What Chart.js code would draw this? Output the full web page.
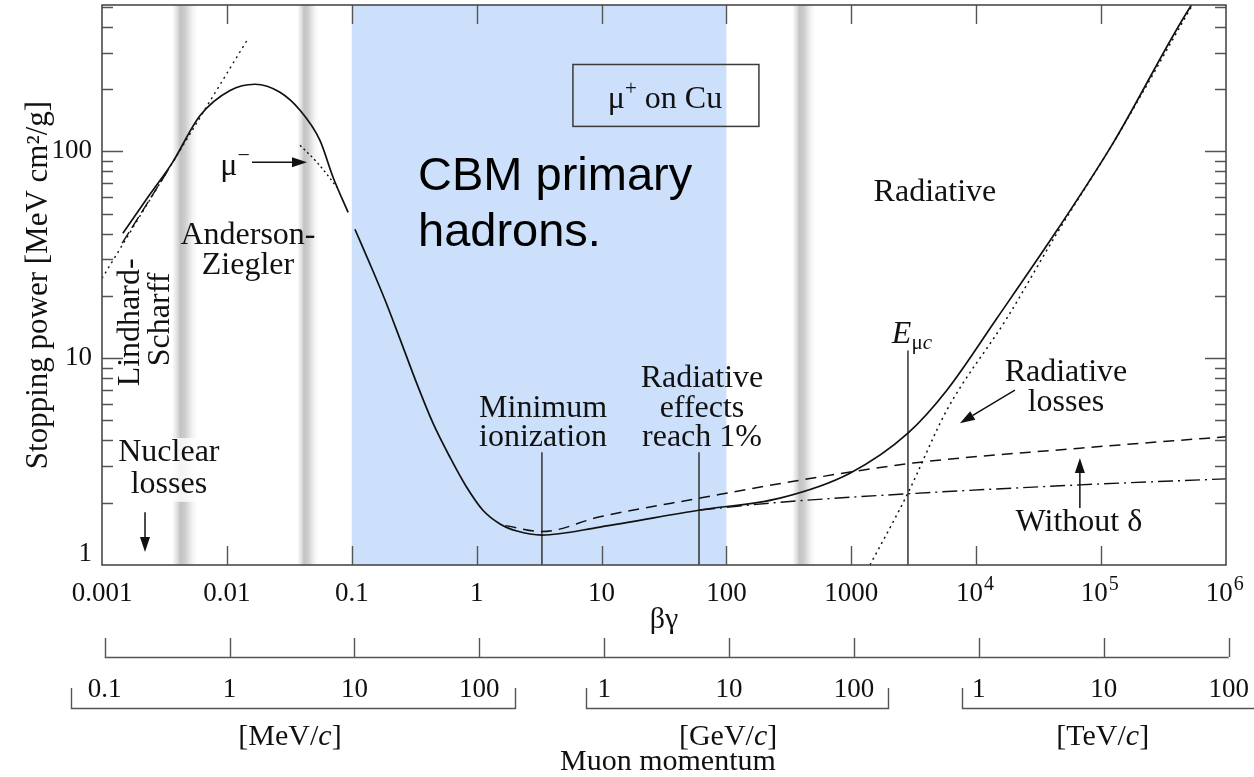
<!DOCTYPE html>
<html>
<head>
<meta charset="utf-8">
<script src="https://cdn.jsdelivr.net/npm/chart.js@4.4.0/dist/chart.umd.min.js"></script>
<style>
  html, body { margin: 0; padding: 0; background: #fff; }
</style>
</head>
<body>
<canvas id="myChart" width="1254" height="777"></canvas>
<script>
// axis ticks
var xTicks = [0.001, 0.01, 0.1, 1, 10, 100, 1000, 1e4, 1e5, 1e6];
var xTickLabels = ['0.001', '0.01', '0.1', '1', '10', '100', '1000', '10\u2002', '10\u2002', '10\u2002'];
var xTickExp = ['', '', '', '', '', '', '', '4', '5', '6'];
var yTicks = [1, 10, 100];
var yTickLabels = ['1', '10', '100'];

// Anderson-Ziegler region (solid)
var azX = [0.00147, 0.00242, 0.00363, 0.0061, 0.0106, 0.0168, 0.0266, 0.0385, 0.0556, 0.0708, 0.0934];
var azY = [40.2, 62, 87.5, 149, 197, 211, 193, 158, 113, 75, 50.7];
// Lindhard-Scharff (dashed)
var lsX = [0.00145, 0.00225, 0.0035];
var lsY = [36, 54.8, 83.7];
// low energy dotted line
var lowDotX = [0.001, 0.01449];
var lowDotY = [24.3, 344];
// mu- (dotted)
var muMinusX = [0.0385, 0.0536, 0.0761];
var muMinusY = [107, 87.5, 67];
// Bethe + radiative total (solid)
var betheX = [0.106, 0.140, 0.1846, 0.243, 0.333, 0.447, 0.611, 0.820, 1.122, 1.538, 2.10, 3.33, 9.7,
  61.4, 268, 975, 2840, 5820, 14650, 44300, 124000, 514000, 564000];
var betheY = [42, 28.5, 19.1, 12.4, 7.49, 4.85, 3.32, 2.41, 1.84, 1.58, 1.46, 1.396, 1.526,
  1.844, 2.107, 2.78, 4.34, 7.0, 15.6, 41.5, 109, 496, 536];
// ionization only (dashed)
var ionX = [1.7, 3.33, 9.7, 61.4, 388, 3110, 67600, 1e6];
var ionY = [1.55, 1.45, 1.71, 2.107, 2.57, 3.11, 3.67, 4.17];
// without delta (dash-dot)
var noDeltaX = [61.4, 268, 2840, 67600, 1e6];
var noDeltaY = [1.844, 2.01, 2.21, 2.44, 2.61];
// radiative losses (dotted)
var radX = [1410, 2790, 5820, 17600, 44300, 124000, 564000];
var radY = [1.0, 2.18, 5.61, 15.6, 40.2, 109, 536];

// vertical markers: minimum ionization, radiative 1%, E_muc
var markX = [3.33, 60.3, 2840];
var markTop = [3.51, 3.51, 10.9];

// grey boundary bands and CBM region
var bandLo = [0.0037, 0.0371, 341];
var bandHi = [0.00577, 0.0536, 511];
var bandGapLo = [2.02, 0, 0];
var bandGapHi = [4.11, 0, 0];
var cbmRange = [0.1, 100];

// muon momentum ruler (beta*gamma of each momentum decade)
var rulerTicks = [0.00105, 0.0105, 0.105, 1.05, 10.5, 105, 1050, 10500, 105000, 1050000];
var groupUnits = ['[MeV/c]', '[GeV/c]', '[TeV/c]'];
var groupLabels = [['0.1', '1', '10', '100'], ['1', '10', '100'], ['1', '10', '100']];
var groupFirst = [0, 4, 7];
var groupFrom = [0.000565, 7.5, 7690];
var groupTo = [2.03, 1963, 1.9e6];
var groupUnitX = [0.032, 103, 103000];

var serif = '"Liberation Serif", "Times New Roman", serif';
var ink = '#111';
var textSize = 32;

function makeSet(xs, ys, dash, width) {
  var pts = [];
  for (var i = 0; i < xs.length; i++) {
    pts.push({x: xs[i], y: ys[i]});
  }
  return {
    data: pts,
    showLine: true,
    borderColor: ink,
    borderWidth: width,
    borderDash: dash,
    pointRadius: 0,
    fill: false,
    cubicInterpolationMode: 'monotone'
  };
}

var datasets = [
  makeSet(azX, azY, [], 1.7),
  makeSet(lsX, lsY, [13, 5], 1.4),
  makeSet(lowDotX, lowDotY, [2, 4], 1.4),
  makeSet(muMinusX, muMinusY, [2, 3], 1.4),
  makeSet(betheX, betheY, [], 1.7),
  makeSet(ionX, ionY, [11, 7], 1.5),
  makeSet(noDeltaX, noDeltaY, [15, 5, 2, 5], 1.4),
  makeSet(radX, radY, [2, 4], 1.5)
];
for (var m = 0; m < markX.length; m++) {
  var s = makeSet([markX[m], markX[m]], [1, markTop[m]], [], 1.5);
  s.borderColor = '#333';
  s.cubicInterpolationMode = 'default';
  datasets.push(s);
}

// text labels in data coordinates
var labelText = ['Nuclear', 'losses', 'Anderson-', 'Ziegler', 'Minimum', 'ionization',
  'Radiative', 'effects', 'reach 1%', 'Radiative', 'losses', 'Without δ', 'Radiative'];
var labelX = [0.00343, 0.00343, 0.01475, 0.01475, 3.40, 3.40, 63.7, 63.7, 63.7, 52300, 52300, 66400, 4670];
var labelY = [3.48, 2.44, 39.3, 28.1, 5.73, 4.15, 8.0, 5.73, 4.15, 8.56, 6.13, 1.61, 63.4];

// arrows [x0, y0, x1, y1]
var arrows = [
  [0.0159, 88.5, 0.0438, 88.5],
  [0.00221, 1.80, 0.00221, 1.155],
  [20400, 7.0, 7400, 4.85],
  [67600, 1.885, 67600, 3.29]
];

function font(size, italic) {
  return (italic ? 'italic ' : '') + size + 'px ' + serif;
}

function drawParts(ctx, parts, cx, baseline) {
  var total = 0, widths = [];
  for (var i = 0; i < parts.length; i++) {
    ctx.font = font(parts[i][1], parts[i][2]);
    var w = ctx.measureText(parts[i][0]).width;
    widths.push(w);
    total += w;
  }
  var x = cx - total / 2;
  ctx.textAlign = 'left';
  ctx.textBaseline = 'alphabetic';
  for (var j = 0; j < parts.length; j++) {
    ctx.font = font(parts[j][1], parts[j][2]);
    ctx.fillText(parts[j][0], x, baseline + parts[j][3]);
    x += widths[j];
  }
}

function drawArrow(ctx, x0, y0, x1, y1) {
  var ang = Math.atan2(y1 - y0, x1 - x0);
  var len = 15, hw = 5;
  var bx = x1 - len * Math.cos(ang), by = y1 - len * Math.sin(ang);
  ctx.beginPath();
  ctx.moveTo(x0, y0);
  ctx.lineTo(bx, by);
  ctx.stroke();
  ctx.beginPath();
  ctx.moveTo(x1, y1);
  ctx.lineTo(bx + hw * Math.sin(ang), by - hw * Math.cos(ang));
  ctx.lineTo(bx - hw * Math.sin(ang), by + hw * Math.cos(ang));
  ctx.closePath();
  ctx.fill();
}

var decor = {
  id: 'decor',
  beforeDatasetsDraw: function(chart) {
    var ctx = chart.ctx, xs = chart.scales.x, ys = chart.scales.y, a = chart.chartArea;
    ctx.save();
    for (var i = 0; i < bandLo.length; i++) {
      var x0 = xs.getPixelForValue(bandLo[i]), x1 = xs.getPixelForValue(bandHi[i]);
      var g = ctx.createLinearGradient(x0, 0, x1, 0);
      g.addColorStop(0, 'rgba(235,235,235,0.4)');
      g.addColorStop(0.3, '#c3c3c3');
      g.addColorStop(0.5, '#cdcdcd');
      g.addColorStop(0.75, '#ececec');
      g.addColorStop(1, 'rgba(250,250,250,0.4)');
      ctx.fillStyle = g;
      ctx.fillRect(x0, a.top, x1 - x0, a.bottom - a.top);
      if (bandGapHi[i]) {
        var gy0 = ys.getPixelForValue(bandGapHi[i]), gy1 = ys.getPixelForValue(bandGapLo[i]);
        ctx.fillStyle = 'rgba(255,255,255,0.8)';
        ctx.fillRect(x0, gy0, x1 - x0, gy1 - gy0);
      }
    }
    var c0 = xs.getPixelForValue(cbmRange[0]), c1 = xs.getPixelForValue(cbmRange[1]);
    ctx.fillStyle = '#cce0fb';
    ctx.fillRect(c0, a.top, c1 - c0, a.bottom - a.top);
    ctx.restore();
  },
  afterDatasetsDraw: function(chart) {
    var ctx = chart.ctx, xs = chart.scales.x, ys = chart.scales.y, a = chart.chartArea;
    var i, px, py;
    ctx.save();
    ctx.strokeStyle = '#555';
    ctx.lineWidth = 1.4;
    ctx.setLineDash([]);
    // inward ticks
    ctx.beginPath();
    for (i = 1; i < xTicks.length - 1; i++) {
      px = Math.round(xs.getPixelForValue(xTicks[i])) + 0.5;
      ctx.moveTo(px, a.bottom); ctx.lineTo(px, a.bottom - 19);
      ctx.moveTo(px, a.top); ctx.lineTo(px, a.top + 19);
    }
    for (var d = 0; d < yTicks.length; d++) {
      for (var k = 1; k <= 9; k++) {
        var v = yTicks[d] * k;
        if (v <= 1 || v > ys.max) continue;
        var len = k === 1 ? 21 : 11;
        py = Math.round(ys.getPixelForValue(v)) + 0.5;
        ctx.moveTo(a.left, py); ctx.lineTo(a.left + len, py);
        ctx.moveTo(a.right, py); ctx.lineTo(a.right - len, py);
      }
    }
    ctx.stroke();
    // frame
    ctx.strokeStyle = '#4a4a4a';
    ctx.lineWidth = 1.6;
    ctx.strokeRect(a.left, a.top, a.right - a.left, a.bottom - a.top);

    // exponents of the x tick labels
    ctx.fillStyle = ink;
    ctx.textAlign = 'left';
    ctx.textBaseline = 'middle';
    for (i = 0; i < xTicks.length; i++) {
      if (!xTickExp[i]) continue;
      px = xs.getPixelForValue(xTicks[i]);
      ctx.font = font(27);
      var w10 = ctx.measureText('10').width, wsp = ctx.measureText('\u2002').width;
      ctx.font = font(20);
      ctx.fillText(xTickExp[i], px - (w10 + wsp) / 2 + w10 + 1, a.bottom + 20);
    }

    // labels
    ctx.textAlign = 'center';
    ctx.textBaseline = 'middle';
    ctx.font = font(textSize);
    for (i = 0; i < labelText.length; i++) {
      ctx.fillText(labelText[i], xs.getPixelForValue(labelX[i]), ys.getPixelForValue(labelY[i]));
    }
    // rotated Lindhard-Scharff
    var rot = [['Lindhard-', 0.00168, 14.9], ['Scharff', 0.00297, 15.4]];
    for (i = 0; i < rot.length; i++) {
      ctx.save();
      ctx.translate(xs.getPixelForValue(rot[i][1]), ys.getPixelForValue(rot[i][2]));
      ctx.rotate(-Math.PI / 2);
      ctx.fillText(rot[i][0], 0, 0);
      ctx.restore();
    }
    // mu- label
    px = xs.getPixelForValue(0.01162); py = ys.getPixelForValue(85.6);
    drawParts(ctx, [['μ', textSize, false, 0], ['−', 22, false, -13]], px, py + 10);
    // E_muc
    px = xs.getPixelForValue(3055); py = ys.getPixelForValue(13.2);
    drawParts(ctx, [['E', textSize, true, 0], ['μ', 21, false, 6], ['c', 21, true, 6]], px, py + 10);
    // mu+ on Cu box
    var bx0 = xs.getPixelForValue(5.90), bx1 = xs.getPixelForValue(182);
    var by0 = ys.getPixelForValue(263), by1 = ys.getPixelForValue(132);
    ctx.strokeStyle = '#3a3a3a';
    ctx.lineWidth = 1.5;
    ctx.strokeRect(bx0, by0, bx1 - bx0, by1 - by0);
    px = xs.getPixelForValue(32.2); py = ys.getPixelForValue(182);
    drawParts(ctx, [['μ', textSize, false, 0], ['+', 21, false, -13], [' on Cu', textSize, false, 0]], px, py + 10);
    // CBM text
    ctx.fillStyle = '#000';
    ctx.textAlign = 'left';
    ctx.textBaseline = 'middle';
    ctx.font = '47px "Liberation Sans", Arial, sans-serif';
    px = xs.getPixelForValue(0.339);
    ctx.fillText('CBM primary', px, ys.getPixelForValue(74.9));
    ctx.fillText('hadrons.', px, ys.getPixelForValue(40.2));

    // arrows
    ctx.fillStyle = ink;
    ctx.strokeStyle = ink;
    ctx.lineWidth = 1.5;
    for (i = 0; i < arrows.length; i++) {
      var r = arrows[i];
      drawArrow(ctx, xs.getPixelForValue(r[0]), ys.getPixelForValue(r[1]),
        xs.getPixelForValue(r[2]), ys.getPixelForValue(r[3]));
    }

    // muon momentum ruler
    var ry = a.bottom + 92;
    ctx.strokeStyle = '#555';
    ctx.lineWidth = 1.4;
    ctx.beginPath();
    ctx.moveTo(xs.getPixelForValue(rulerTicks[0]), ry + 0.5);
    ctx.lineTo(xs.getPixelForValue(rulerTicks[rulerTicks.length - 1]), ry + 0.5);
    for (i = 0; i < rulerTicks.length; i++) {
      px = Math.round(xs.getPixelForValue(rulerTicks[i])) + 0.5;
      ctx.moveTo(px, ry); ctx.lineTo(px, ry - 19);
    }
    // brackets
    var bb = a.bottom + 143, bt = a.bottom + 123;
    for (var gI = 0; gI < groupUnits.length; gI++) {
      var g0 = Math.round(xs.getPixelForValue(groupFrom[gI])) + 0.5;
      var g1 = Math.round(xs.getPixelForValue(groupTo[gI])) + 0.5;
      ctx.moveTo(g0, bt); ctx.lineTo(g0, bb + 0.5); ctx.lineTo(g1, bb + 0.5); ctx.lineTo(g1, bt);
    }
    ctx.stroke();
    ctx.fillStyle = ink;
    for (gI = 0; gI < groupUnits.length; gI++) {
      for (var L = 0; L < groupLabels[gI].length; L++) {
        ctx.textAlign = 'center';
        ctx.textBaseline = 'middle';
        ctx.font = font(27);
        px = xs.getPixelForValue(rulerTicks[groupFirst[gI] + L]);
        ctx.fillText(groupLabels[gI][L], px, a.bottom + 125);
      }
      var u = groupUnits[gI];
      drawParts(ctx, [[u.slice(0, u.length - 2), 30, false, 0], ['c', 30, true, 0], [']', 30, false, 0]],
        xs.getPixelForValue(groupUnitX[gI]), a.bottom + 180);
    }
    ctx.font = font(30);
    ctx.textAlign = 'center';
    ctx.textBaseline = 'middle';
    ctx.fillText('Muon momentum', xs.getPixelForValue(34), a.bottom + 197);
    ctx.restore();
  }
};

var chart = new Chart(document.getElementById('myChart').getContext('2d'), {
  type: 'scatter',
  data: {datasets: datasets},
  options: {
    responsive: false,
    animation: false,
    devicePixelRatio: 1,
    layout: {padding: {left: 0, right: 28, top: 5, bottom: 0}},
    plugins: {legend: {display: false}, tooltip: {enabled: false}},
    scales: {
      x: {
        type: 'logarithmic',
        min: 0.001,
        max: 1e6,
        grid: {display: false, drawTicks: false},
        border: {display: false},
        afterBuildTicks: function(s) {
          s.ticks = xTicks.map(function(v) { return {value: v}; });
        },
        afterFit: function(s) {
          s.height = 212;
          s.paddingLeft = 0;
          s.paddingRight = 0;
        },
        ticks: {
          autoSkip: false,
          maxRotation: 0,
          padding: 13,
          color: ink,
          font: {family: serif, size: 27},
          callback: function(v, i) { return xTickLabels[i]; }
        },
        title: {
          display: true,
          text: 'βγ',
          color: ink,
          font: {family: serif, size: 30},
          padding: {top: 0, bottom: 139}
        }
      },
      y: {
        type: 'logarithmic',
        min: 1,
        max: 510,
        grid: {display: false, drawTicks: false},
        border: {display: false},
        afterBuildTicks: function(s) {
          s.ticks = yTicks.map(function(v) { return {value: v}; });
        },
        afterFit: function(s) {
          s.width = 102;
          s.paddingTop = 0;
          s.paddingBottom = 0;
        },
        ticks: {
          autoSkip: false,
          padding: 10,
          color: ink,
          font: {family: serif, size: 27, lineHeight: 0.8},
          callback: function(v, i) { return i === 0 ? [yTickLabels[i], ''] : yTickLabels[i]; }
        },
        title: {
          display: true,
          text: 'Stopping power [MeV cm²/g]',
          color: ink,
          font: {family: serif, size: 31},
          padding: {top: 20, bottom: 0}
        }
      }
    }
  },
  plugins: [decor]
});
</script>
</body>
</html>
